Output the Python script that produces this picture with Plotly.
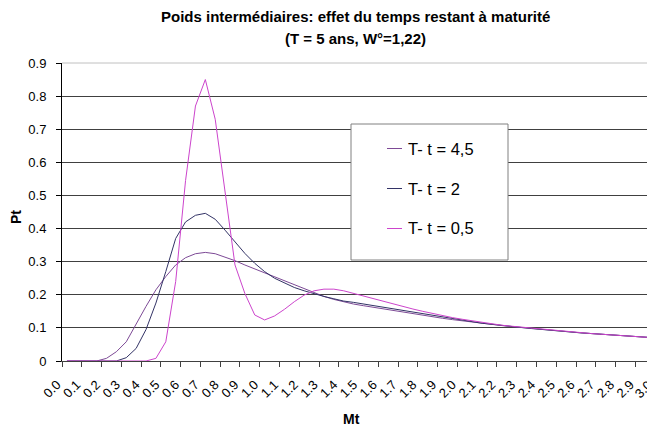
import plotly.graph_objects as go

# ---------------- data ----------------
mt = [0.00, 0.05, 0.10, 0.15, 0.20, 0.25, 0.30, 0.35, 0.40, 0.45,
      0.50, 0.55, 0.60, 0.65, 0.70, 0.75, 0.80, 0.85, 0.90, 0.95,
      1.00, 1.05, 1.10, 1.15, 1.20, 1.25, 1.30, 1.35, 1.40, 1.45,
      1.50, 1.55, 1.60, 1.65, 1.70, 1.75, 1.80, 1.85, 1.90, 1.95,
      2.00, 2.05, 2.10, 2.15, 2.20, 2.25, 2.30, 2.35, 2.40, 2.45,
      2.50, 2.55, 2.60, 2.65, 2.70, 2.75, 2.80, 2.85, 2.90, 2.95,
      3.00]

pt_45 = [0, 0, 0, 0, 0.008, 0.028, 0.058, 0.113, 0.165, 0.215,
         0.255, 0.290, 0.312, 0.324, 0.328, 0.324, 0.314, 0.303, 0.290, 0.278,
         0.266, 0.255, 0.243, 0.231, 0.219, 0.207, 0.195, 0.186, 0.178, 0.172,
         0.167, 0.162, 0.157, 0.152, 0.147, 0.142, 0.137, 0.133, 0.129, 0.125,
         0.121, 0.117, 0.113, 0.110, 0.107, 0.104, 0.101, 0.098, 0.095, 0.093,
         0.090, 0.088, 0.085, 0.083, 0.081, 0.079, 0.077, 0.075, 0.073, 0.071,
         0.069]

pt_2 = [0, 0, 0, 0, 0, 0, 0.010, 0.038, 0.095, 0.175,
        0.270, 0.370, 0.420, 0.440, 0.446, 0.428, 0.395, 0.360, 0.325, 0.295,
        0.270, 0.250, 0.235, 0.222, 0.212, 0.203, 0.195, 0.188, 0.181, 0.177,
        0.172, 0.167, 0.162, 0.157, 0.152, 0.147, 0.142, 0.138, 0.134, 0.128,
        0.124, 0.119, 0.114, 0.111, 0.107, 0.104, 0.101, 0.098, 0.095, 0.093,
        0.090, 0.088, 0.085, 0.083, 0.081, 0.079, 0.077, 0.075, 0.073, 0.071,
        0.069]

pt_05 = [0, 0, 0, 0, 0, 0, 0, 0, 0, 0.008,
         0.058, 0.240, 0.545, 0.770, 0.850, 0.730, 0.510, 0.290, 0.204, 0.139,
         0.124, 0.136, 0.156, 0.179, 0.199, 0.212, 0.217, 0.217, 0.212, 0.204,
         0.197, 0.188, 0.179, 0.171, 0.164, 0.157, 0.150, 0.143, 0.137, 0.131,
         0.126, 0.121, 0.116, 0.112, 0.108, 0.105, 0.102, 0.099, 0.096, 0.093,
         0.091, 0.088, 0.086, 0.083, 0.081, 0.079, 0.077, 0.075, 0.073, 0.071,
         0.069]

series_names = ["T- t = 4,5", "T- t = 2", "T- t = 0,5"]
series_colors = ["#7d4a96", "#333366", "#cc44cc"]

x_tick_vals = [0.0, 0.1, 0.2, 0.3, 0.4, 0.5, 0.6, 0.7, 0.8, 0.9,
               1.0, 1.1, 1.2, 1.3, 1.4, 1.5, 1.6, 1.7, 1.8, 1.9,
               2.0, 2.1, 2.2, 2.3, 2.4, 2.5, 2.6, 2.7, 2.8, 2.9]
x_tick_labels = ["0.0", "0.1", "0.2", "0.3", "0.4", "0.5", "0.6", "0.7", "0.8", "0.9",
                 "1.0", "1.1", "1.2", "1.3", "1.4", "1.5", "1.6", "1.7", "1.8", "1.9",
                 "2.0", "2.1", "2.2", "2.3", "2.4", "2.5", "2.6", "2.7", "2.8", "2.9"]
last_x_label = "3.0"
y_tick_vals = [0, 0.1, 0.2, 0.3, 0.4, 0.5, 0.6, 0.7, 0.8, 0.9]
y_tick_labels = ["0", "0.1", "0.2", "0.3", "0.4", "0.5", "0.6", "0.7", "0.8", "0.9"]

title_line1 = "Poids intermédiaires: effet du temps restant à maturité"
title_line2 = "(T = 5 ans, W°=1,22)"
x_title = "Mt"
y_title = "Pt"

# ---------------- layout geometry ----------------
# page has an 8px body margin: the figure starts at page pixel (8, 8)
OFF = 8
W, H = 655 - OFF, 431 - OFF
PLOT_L, PLOT_R, PLOT_T, PLOT_B = 62, 655, 63, 361   # plot area in page pixels
L, R, T, B = PLOT_L - OFF, 655 - PLOT_R, PLOT_T - OFF, H - (PLOT_B - OFF)
PW, PH = PLOT_R - PLOT_L, PLOT_B - PLOT_T
FONT = "Arial, 'Liberation Sans', sans-serif"


def px(x):
    return (x - PLOT_L) / PW


def py(y):
    return (PLOT_B - y) / PH


fig = go.Figure()
for name, vals, col in zip(series_names, [pt_45, pt_2, pt_05], series_colors):
    fig.add_trace(go.Scatter(x=mt, y=vals, mode="lines", name=name,
                             line=dict(color=col, width=1), showlegend=False))

shapes = []
shapes.append(dict(type="line", xref="paper", yref="paper", x0=0, x1=1, y0=1, y1=1,
                   line=dict(color="#c0c0c0", width=1), layer="above"))
shapes.append(dict(type="rect", xref="paper", yref="paper",
                   x0=px(351), x1=px(508), y0=py(260), y1=py(124),
                   line=dict(color="#808080", width=1), fillcolor="white", layer="above"))
annotations = []
leg_y = [148.5, 188.5, 228.5]
for name, col, yy in zip(series_names, series_colors, leg_y):
    shapes.append(dict(type="line", xref="paper", yref="paper",
                       x0=px(387), x1=px(402), y0=py(yy), y1=py(yy),
                       line=dict(color=col, width=1), layer="above"))
    annotations.append(dict(text=name, xref="paper", yref="paper", x=px(406), y=py(yy),
                            xanchor="left", yanchor="middle", showarrow=False,
                            font=dict(family=FONT, size=16.5, color="black")))

annotations += [
    dict(text="<b>%s</b>" % title_line1, xref="paper", yref="paper", x=px(355), y=py(16),
         xanchor="center", yanchor="middle", showarrow=False,
         font=dict(family=FONT, size=15, color="black")),
    dict(text="<b>%s</b>" % title_line2, xref="paper", yref="paper", x=px(355), y=py(39),
         xanchor="center", yanchor="middle", showarrow=False,
         font=dict(family=FONT, size=15, color="black")),
    dict(text="<b>%s</b>" % x_title, xref="paper", yref="paper", x=px(351), y=py(419),
         xanchor="center", yanchor="middle", showarrow=False,
         font=dict(family=FONT, size=14, color="black")),
    dict(text="<b>%s</b>" % y_title, xref="paper", yref="paper", x=px(16), y=py(217),
         xanchor="center", yanchor="middle", showarrow=False, textangle=-90,
         font=dict(family=FONT, size=14, color="black")),
    dict(text=last_x_label, xref="paper", yref="paper", x=px(643), y=py(389),
         xanchor="center", yanchor="middle", showarrow=False, textangle=-45,
         font=dict(family=FONT, size=13, color="black")),
]

fig.update_layout(
    width=W, height=H,
    margin=dict(l=L, r=R, t=T, b=B, pad=0),
    paper_bgcolor="white", plot_bgcolor="white",
    font=dict(family=FONT, color="black"),
    showlegend=False,
    shapes=shapes, annotations=annotations,
    xaxis=dict(range=[-0.025, 2.9745], tickmode="array", tickvals=x_tick_vals,
               ticktext=x_tick_labels, ticks="", tickangle=-45,
               tickfont=dict(family=FONT, size=13, color="black"),
               ticklabelshift=-10, ticklabelstandoff=10,
               showgrid=False, zeroline=False, showline=True, linecolor="#404040",
               linewidth=1,
               minor=dict(tick0=-0.025, dtick=0.1, ticks="outside", ticklen=5,
                          tickcolor="#404040", tickwidth=1, showgrid=False)),
    yaxis=dict(range=[0, 0.9], tickmode="array", tickvals=y_tick_vals,
               ticktext=y_tick_labels, ticks="outside", ticklen=5, tickcolor="black",
               tickfont=dict(family=FONT, size=13, color="black"),
               ticklabelstandoff=7,
               showgrid=True, gridcolor="#404040", gridwidth=1,
               zeroline=False, showline=True, linecolor="black", linewidth=1),
)

fig.write_html("out.html")
